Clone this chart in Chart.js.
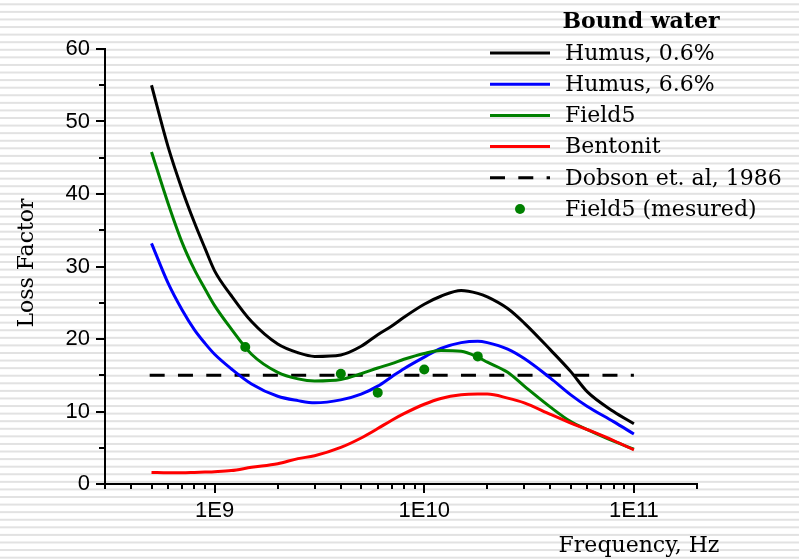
<!DOCTYPE html>
<html>
<head>
<meta charset="utf-8">
<title>Bound water - Loss Factor</title>
<script src="https://cdn.jsdelivr.net/npm/chart.js@4/dist/chart.umd.min.js"></script>
<style>
    html, body { margin: 0; padding: 0; background: #fff; }
    #lossChart { display: block; }
</style>
</head>
<body>
<canvas id="lossChart" width="799" height="559"></canvas>
<script>
/* ==========================================
        Data
========================================== */

const frequencies = [
    5e8, 6e8, 7e8, 8e8, 9e8,
    1e9, 1.2e9, 1.5e9, 2e9, 2.5e9, 3e9, 4e9, 5e9, 6e9, 7e9, 8e9,
    1e10, 1.2e10, 1.5e10, 1.8e10, 2e10, 2.5e10, 3e10, 4e10, 5e10, 6e10, 8e10,
    1e11
];

const humus06 = [
    55.0, 46.5, 40.6, 36.1, 32.5,
    29.4, 26.0, 22.4, 19.3, 18.1, 17.6, 17.8, 19.0, 20.6, 21.8, 23.0,
    24.8, 25.9, 26.7, 26.3, 25.8, 24.2, 22.2, 18.5, 15.5, 12.7, 10.0,
    8.3
];

const humus66 = [
    33.2, 27.7, 24.0, 21.3, 19.4,
    17.9, 15.9, 13.8, 12.1, 11.5, 11.2, 11.6, 12.4, 13.5, 14.8, 15.9,
    17.5, 18.7, 19.5, 19.7, 19.5, 18.6, 17.3, 14.6, 12.3, 10.7, 8.6,
    6.9
];

const field5 = [
    45.8, 38.7, 33.3, 29.6, 26.9,
    24.6, 21.4, 17.9, 15.4, 14.5, 14.2, 14.4, 15.2, 16.0, 16.6, 17.2,
    18.0, 18.4, 18.3, 17.5, 16.8, 15.4, 13.5, 10.6, 8.6, 7.5, 5.9,
    4.8
];

const bentonit = [
    1.6, 1.55, 1.55, 1.6, 1.65,
    1.7, 1.85, 2.3, 2.8, 3.5, 3.9, 5.05, 6.35, 7.65, 8.8, 9.7,
    11.0, 11.8, 12.3, 12.4, 12.4, 11.85, 11.2, 9.6, 8.4, 7.5, 6.0,
    4.7
];

const dobsonFreq = [4.9e8, 1e11];
const dobson = [15, 15];

const measuredFreq = [1.4e9, 4e9, 6e9, 1e10, 1.8e10];
const measured = [18.9, 15.2, 12.6, 15.8, 17.6];

const xTickValues = [
    3e8, 4e8, 5e8, 6e8, 7e8, 8e8, 9e8,
    1e9, 2e9, 3e9, 4e9, 5e9, 6e9, 7e9, 8e9, 9e9,
    1e10, 2e10, 3e10, 4e10, 5e10, 6e10, 7e10, 8e10, 9e10,
    1e11, 2e11
];
const xMajorValues = [1e9, 1e10, 1e11];
const xMajorLabels = ["1E9", "1E10", "1E11"];

const legendTitle = "Bound water";
const xTitle = "Frequency, Hz";
const yTitle = "Loss Factor";

/* ==========================================
        Helpers
========================================== */

const toPoints = (xs, ys) => xs.map((x, i) => ({ x: x, y: ys[i] }));

const serif = '"DejaVu Serif", serif';
const sans = '"Liberation Sans", Arial, sans-serif';

/* ==========================================
        Plugins
========================================== */

// striped page background
const stripesPlugin = {
    id: "stripes",
    beforeDraw(chart) {
        const ctx = chart.ctx;
        ctx.save();
        ctx.fillStyle = "#ffffff";
        ctx.fillRect(0, 0, chart.width, chart.height);
        ctx.fillStyle = "#e2e2e2";
        for (let y = 3.3; y < chart.height; y += 7.58) {
            ctx.fillRect(0, y, chart.width, 2);
        }
        ctx.restore();
    }
};

// outside tick marks, long for majors and short for minors
const tickMarksPlugin = {
    id: "tickMarks",
    afterDraw(chart) {
        const ctx = chart.ctx;
        const xs = chart.scales.x;
        const ys = chart.scales.y;
        ctx.save();
        ctx.strokeStyle = "#000";
        ctx.lineWidth = 2;
        ctx.beginPath();
        xs.ticks.forEach(t => {
            const px = Math.round(xs.getPixelForValue(t.value));
            const len = xMajorValues.includes(t.value) ? 9 : 5;
            ctx.moveTo(px, ys.bottom);
            ctx.lineTo(px, ys.bottom + len);
        });
        ys.ticks.forEach(t => {
            const py = Math.round(ys.getPixelForValue(t.value));
            const len = t.value % 10 === 0 ? 9 : 6;
            ctx.moveTo(xs.left, py);
            ctx.lineTo(xs.left - len, py);
        });
        ctx.stroke();
        ctx.restore();
    }
};

// axis titles
const axisTitlesPlugin = {
    id: "axisTitles",
    afterDraw(chart) {
        const ctx = chart.ctx;
        ctx.save();
        ctx.fillStyle = "#000";
        ctx.font = "22px " + serif;
        ctx.textAlign = "center";
        ctx.textBaseline = "alphabetic";
        ctx.fillText(xTitle, 639, 552);

        ctx.translate(33, 263);
        ctx.rotate(-Math.PI / 2);
        ctx.fillText(yTitle, 0, 0);
        ctx.restore();
    }
};

// legend box, top right
const legendPlugin = {
    id: "boundLegend",
    afterDraw(chart) {
        const ctx = chart.ctx;
        ctx.save();

        ctx.fillStyle = "#000";
        ctx.font = "bold 22px " + serif;
        ctx.textAlign = "center";
        ctx.textBaseline = "middle";
        ctx.fillText(legendTitle, 641, 22);

        ctx.font = "22px " + serif;
        ctx.textAlign = "left";

        chart.data.datasets.forEach((ds, i) => {
            const y = 53 + i * 31.2;
            if (ds.showLine === false) {
                ctx.fillStyle = ds.backgroundColor;
                ctx.beginPath();
                ctx.arc(520, y, ds.pointRadius, 0, Math.PI * 2);
                ctx.fill();
            } else {
                ctx.strokeStyle = ds.borderColor;
                ctx.lineWidth = ds.borderWidth;
                ctx.setLineDash(ds.borderDash || []);
                ctx.beginPath();
                ctx.moveTo(490, y);
                ctx.lineTo(550, y);
                ctx.stroke();
                ctx.setLineDash([]);
            }
            ctx.fillStyle = "#000";
            ctx.fillText(ds.label, 565, y + 1);
        });

        ctx.restore();
    }
};

/* ==========================================
        Chart
========================================== */

const lineStyle = (color) => ({
    borderColor: color,
    backgroundColor: color,
    borderWidth: 3,
    pointRadius: 0,
    fill: false,
    cubicInterpolationMode: "monotone"
});

new Chart(document.getElementById("lossChart"), {

    type: "line",

    data: {
        datasets: [
            Object.assign({ label: "Humus, 0.6%", data: toPoints(frequencies, humus06), order: 4 }, lineStyle("#000000")),
            Object.assign({ label: "Humus, 6.6%", data: toPoints(frequencies, humus66), order: 3 }, lineStyle("#0000ff")),
            Object.assign({ label: "Field5", data: toPoints(frequencies, field5), order: 2 }, lineStyle("#008000")),
            Object.assign({ label: "Bentonit", data: toPoints(frequencies, bentonit), order: 1 }, lineStyle("#ff0000")),
            Object.assign({ label: "Dobson et. al, 1986", data: toPoints(dobsonFreq, dobson), order: 5, borderDash: [15, 13.3] }, lineStyle("#000000")),
            {
                label: "Field5 (mesured)",
                data: toPoints(measuredFreq, measured),
                order: 0,
                showLine: false,
                pointRadius: 5,
                pointHoverRadius: 5,
                borderWidth: 0,
                backgroundColor: "#008000",
                borderColor: "#008000"
            }
        ]
    },

    options: {
        responsive: false,
        animation: false,
        events: [],
        layout: {
            padding: { top: 49, right: 102, left: 0, bottom: 0 }
        },
        plugins: {
            legend: { display: false },
            tooltip: { enabled: false }
        },
        scales: {
            x: {
                type: "logarithmic",
                min: 3e8,
                max: 2e11,
                afterBuildTicks: (scale) => {
                    scale.ticks = xTickValues.map(v => ({ value: v }));
                },
                afterFit: (scale) => { scale.height = 75; },
                grid: { display: false, drawTicks: false },
                border: { display: true, color: "#000", width: 2 },
                ticks: {
                    autoSkip: false,
                    maxRotation: 0,
                    padding: 14,
                    color: "#000",
                    font: { family: sans, size: 22 },
                    callback: (v) => {
                        const k = xMajorValues.indexOf(v);
                        return k >= 0 ? xMajorLabels[k] : "";
                    }
                }
            },
            y: {
                min: 0,
                max: 60,
                afterFit: (scale) => { scale.width = 105; },
                grid: { display: false, drawTicks: false },
                border: { display: true, color: "#000", width: 2 },
                ticks: {
                    stepSize: 5,
                    padding: 15,
                    color: "#000",
                    font: { family: sans, size: 22 },
                    callback: (v) => (v % 10 === 0 ? String(v) : "")
                }
            }
        }
    },

    plugins: [stripesPlugin, tickMarksPlugin, axisTitlesPlugin, legendPlugin]

});
</script>
</body>
</html>
